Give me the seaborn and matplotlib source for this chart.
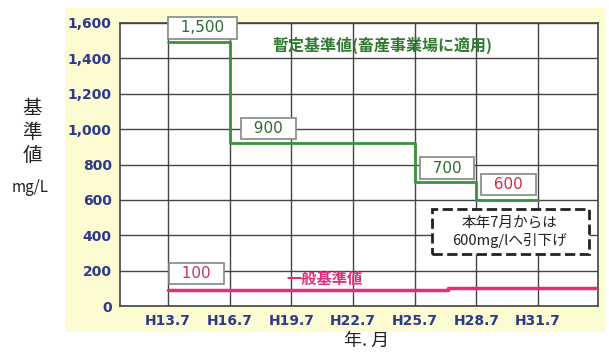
import matplotlib
matplotlib.use("Agg")
import matplotlib.pyplot as plt
import seaborn as sns
import pandas as pd
from matplotlib.patches import Rectangle

# ---- data ----
tick_pos = [13.5, 16.5, 19.5, 22.5, 25.5, 28.5, 31.5]
tick_labels = ["H13.7", "H16.7", "H19.7", "H22.7", "H25.7", "H28.7", "H31.7"]
y_ticks = [0, 200, 400, 600, 800, 1000, 1200, 1400, 1600]

prov_x = [13.5, 16.5, 25.5, 28.5, 31.5]
prov_y = [1490, 920, 700, 600, 600]
prov_labels = ["1,500", "900", "700", "600"]

gen_x = [13.5, 27.1, 34.42]
gen_y = [93, 100, 100]
gen_label = "100"

sns.set_theme(style="white")
plt.rcParams['font.family'] = ['DejaVu Sans', 'Noto Sans CJK JP']
CJK = ['Noto Sans CJK JP', 'DejaVu Sans']

fig = plt.figure(figsize=(6.09, 3.54), dpi=100)
fig.patch.set_facecolor("white")
# yellow panel behind the chart
fig.patches.append(Rectangle((65/609, 1-332/354), 540/609, 324/354,
                             transform=fig.transFigure, fc="#fcfbd2", ec="none", zorder=-5))

ax = fig.add_axes([120/609, 1-306/354, 478/609, 283/354])
ax.set_zorder(2)
ax.set_facecolor("white")

df_p = pd.DataFrame({"x": prov_x, "y": prov_y})
df_g = pd.DataFrame({"x": gen_x, "y": gen_y})
sns.lineplot(data=df_p, x="x", y="y", ax=ax, color="#3a923a", lw=2,
             drawstyle="steps-post", estimator=None, sort=False, zorder=3)
sns.lineplot(data=df_g, x="x", y="y", ax=ax, color="#e0307a", lw=2.5,
             drawstyle="steps-post", estimator=None, sort=False, zorder=3)

ax.set_xlim(11.17, 34.42)
ax.set_ylim(0, 1600)
ax.set_xticks(tick_pos)
ax.set_xticklabels(tick_labels)
ax.set_yticks(y_ticks)
ax.set_yticklabels([f"{v:,}" for v in y_ticks])
ax.grid(True, color="#444444", lw=1)
ax.set_axisbelow(True)
for s in ax.spines.values():
    s.set_color("#444444")
    s.set_linewidth(1.2)
ax.tick_params(axis="both", length=0, pad=6, labelsize=10, labelcolor="#2c3a8a")
for t in ax.get_xticklabels() + ax.get_yticklabels():
    t.set_fontweight("bold")
ax.set_xlabel("")
ax.set_ylabel("")

# value boxes
box = dict(boxstyle="square,pad=0.2", fc="white", ec="#7f8c7f", lw=1.2)
lab_pos = [(15.16, 1572), (18.39, 1006), (27.07, 780), (30.07, 687)]
lab_col = ["#2f6b2f", "#2f6b2f", "#2f6b2f", "#c83040"]
for (lx, ly), lt, lc in zip(lab_pos, prov_labels, lab_col):
    ax.text(lx, ly, "  " + lt + "  ", ha="center", va="center", fontsize=11, color=lc,
            bbox=box, zorder=5)
ax.text(14.89, 184, "  " + gen_label + "  ", ha="center", va="center", fontsize=11,
        color="#c8306a", bbox=box, zorder=5)

ax.text(23.91, 1476, "暫定基準値(畜産事業場に適用)", ha="center", va="center",
        fontsize=11.5, fontweight="bold", color="#2f7a2f", family=CJK, zorder=5)
ax.text(21.14, 152, "一般基準値", ha="center", va="center", fontsize=11,
        fontweight="bold", color="#e0307a", family=CJK, zorder=5)

# dashed note box
ax.add_patch(Rectangle(((432-120)/478, (306-254)/283), 157/478, 45/283,
                       transform=ax.transAxes, fc="white", ec="#222222",
                       lw=2, ls="--", zorder=5))
ax.text((510-120)/478, (306-231.5)/283, "本年7月からは\n600mg/lへ引下げ",
        transform=ax.transAxes, ha="center", va="center",
        fontsize=10.5, color="#222222", family=CJK, linespacing=1.25, zorder=6)

fig.text(32/609, 1-132/354, "基\n準\n値", ha="center", va="center", fontsize=14,
         family=CJK, linespacing=1.15, color="#222222")
fig.text(30/609, 1-187/354, "mg/L", ha="center", va="center", fontsize=11,
         family=CJK, color="#222222")
fig.text(367/609, 1-341/354, "年. 月", ha="center", va="center", fontsize=13,
         family=CJK, color="#222222")

fig.savefig("out.png", dpi=100)
